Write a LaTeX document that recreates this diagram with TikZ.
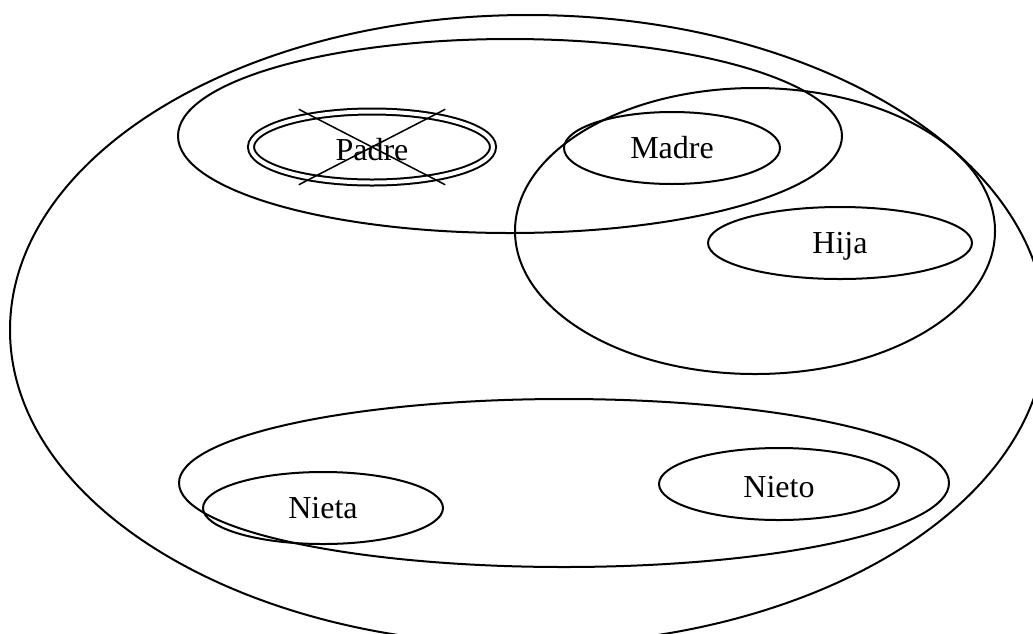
\documentclass[tikz,border=0pt]{standalone}
\usepackage{fontspec}
\setmainfont{Liberation Serif}
\usepackage{tikz}
\usetikzlibrary{shapes}
\usetikzlibrary{positioning}
\tikzstyle{vertex}=[draw,ellipse,minimum width=240pt,minimum height=72pt,inner sep=0pt]
\tikzstyle{cluster}=[draw,ellipse,inner sep=0pt]

\begin{document}
\begin{tikzpicture}[x=1pt,y=-1pt,line width=2pt]
\tikzstyle{vertex}=[draw,ellipse,minimum width=240pt,minimum height=72pt,inner sep=0pt,text height=21pt,text depth=0pt,font=\fontsize{32}{38}\selectfont]
\tikzstyle{cluster}=[draw,ellipse,inner sep=0pt]
\useasboundingbox (0,0) rectangle (1033,633);

\node [cluster,minimum width=1036pt,minimum height=630pt] (family) at (528,330) {};
\node [cluster,minimum width=664pt,minimum height=194pt] (parents) at (510,136) {};
\node [cluster,minimum width=480pt,minimum height=286pt] (mother) at (755,231) {};
\node [cluster,minimum width=770pt,minimum height=168pt] (grandkids) at (564,483) {};

\node [vertex,double,double distance=4pt,minimum width=242pt,minimum height=71pt,text height=27pt] (padre) at (372,147) {Padre};
\node [draw,cross out,line width=1.5pt,minimum width=145pt,minimum height=74pt,inner sep=0pt] (padrex) at (padre) {};
\node [vertex,minimum width=216pt] (madre) at (672,148) {Madre};
\node [vertex,minimum width=264pt] (hija) at (840,243) {Hija};
\node [vertex] (nieta) at (323,508) {Nieta};
\node [vertex,text height=27pt] (nieto) at (779,484) {Nieto};
\end{tikzpicture}
\end{document}
